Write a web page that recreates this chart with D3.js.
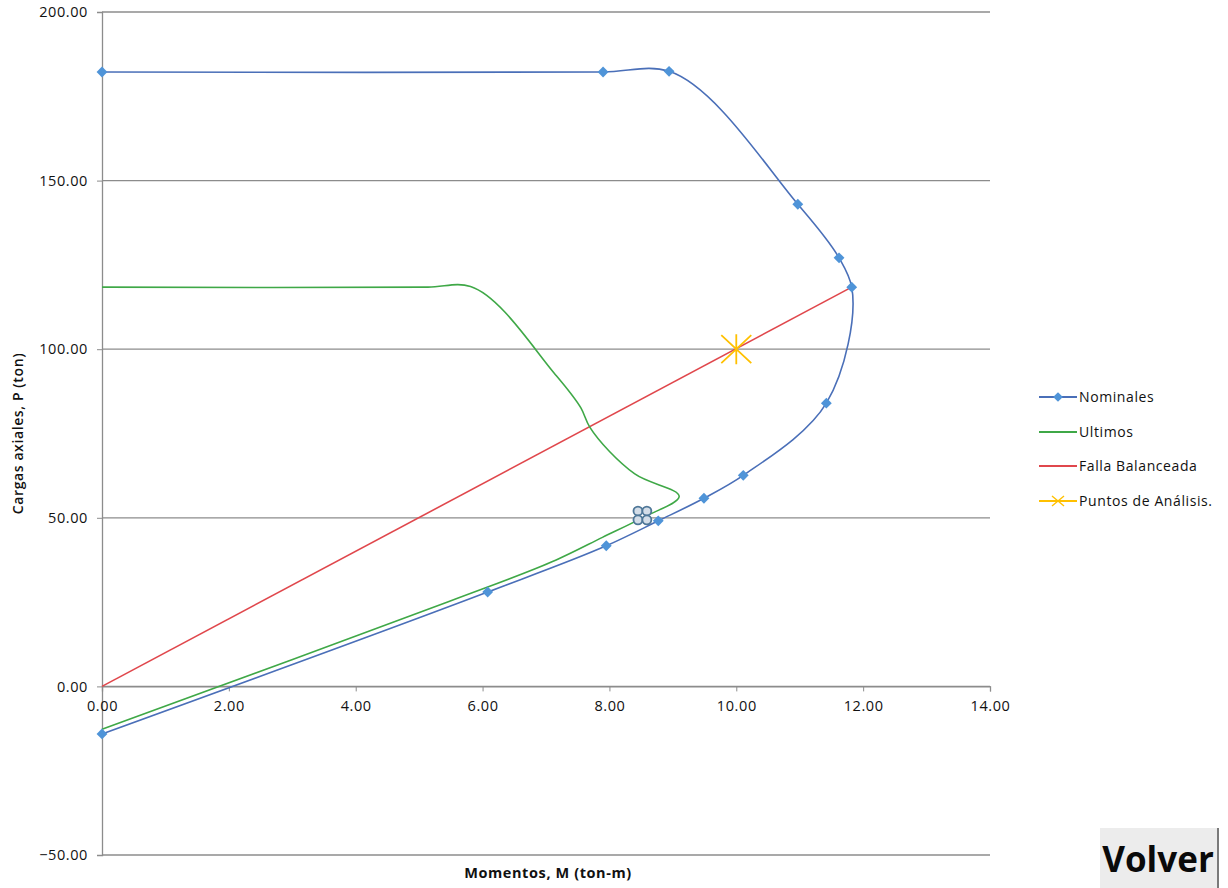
<!DOCTYPE html>
<html>
<head>
<meta charset="utf-8">
<script src="https://cdn.jsdelivr.net/npm/d3@7"></script>
<style>
  body { margin: 0; background: #fff; }
  text { font-family: "Open Sans", "DejaVu Sans", sans-serif; }
</style>
</head>
<body>
<div id="chart"></div>
<script>
// Diagrama de interaccion
var nomM = [0, 7.90, 8.94, 10.97, 11.62, 11.82, 11.42, 10.11, 9.49, 8.77, 7.95, 6.08, 0];
var nomP = [182.2, 182.2, 182.4, 143.0, 127.1, 118.4, 84.0, 62.6, 55.8, 49.1, 41.7, 28.0, -14.1];
var ultM = [0, 5.14, 5.81, 7.13, 7.55, 7.69, 8.40, 9.10, 8.54, 7.89, 7.16, 5.47, 0];
var ultP = [118.4, 118.4, 118.6, 92.9, 82.6, 76.9, 63.0, 56.3, 50.2, 44.2, 37.5, 25.2, -12.7];
var falM = [0, 11.82];
var falP = [0, 118.4];
var ptsM = [10.0];
var ptsP = [100.0];
var marcasM = [8.45, 8.45, 8.59, 8.59];
var marcasP = [52.0, 49.4, 52.0, 49.4];
var xTicks = [0, 2, 4, 6, 8, 10, 12, 14];
var yTicks = [-50, 0, 50, 100, 150, 200];
var series = ["Nominales", "Ultimos", "Falla Balanceada", "Puntos de Análisis."];

function drawChart() {
    var width = 1228, height = 888;
    var left = 102, right = 990, top = 12, bottom = 855;

    var svg = d3.select("#chart").append("svg")
        .attr("width", width).attr("height", height)
        .style("display", "block");

    svg.append("rect").attr("width", width).attr("height", height).attr("fill", "#fff");

    var x = d3.scaleLinear().domain([0, 14]).range([left, right]);
    var y = d3.scaleLinear().domain([-50, 200]).range([bottom, top]);

    // grid
    svg.selectAll(".grid").data(yTicks).enter().append("line")
        .attr("x1", left).attr("x2", right)
        .attr("y1", d => y(d)).attr("y2", d => y(d))
        .attr("stroke", "#8c8c8c").attr("stroke-width", 1.3);

    // y axis
    var yAxis = d3.axisLeft(y).tickValues(yTicks).tickFormat(d3.format(".2f")).tickSize(5).tickPadding(9);
    var gy = svg.append("g").attr("transform", "translate(" + left + ",0)").call(yAxis);
    gy.select(".domain").attr("stroke", "#8c8c8c").attr("stroke-width", 1.3);
    gy.selectAll(".tick line").attr("stroke", "#8c8c8c");
    gy.selectAll("text").attr("font-size", 14.5).attr("letter-spacing", 0.6).attr("fill", "#111");

    // x axis (crosses at P = 0)
    var xAxis = d3.axisBottom(x).tickValues(xTicks).tickFormat(d3.format(".2f")).tickSize(5).tickPadding(9);
    var gx = svg.append("g").attr("transform", "translate(0," + y(0) + ")").call(xAxis);
    gx.select(".domain").attr("stroke", "#8c8c8c").attr("stroke-width", 1.3);
    gx.selectAll(".tick line").attr("stroke", "#8c8c8c");
    gx.selectAll("text").attr("font-size", 14.5).attr("letter-spacing", 0.6).attr("fill", "#111");

    // titles
    svg.append("text").attr("x", (left + right) / 2 + 2).attr("y", 878)
        .attr("text-anchor", "middle").attr("font-size", 14.5).attr("font-weight", "bold")
        .attr("letter-spacing", 0.6).attr("fill", "#111").text("Momentos,  M (ton-m)");
    svg.append("text").attr("transform", "translate(23," + ((top + bottom) / 2) + ") rotate(-90)")
        .attr("text-anchor", "middle").attr("font-size", 14).attr("font-weight", 600)
        .attr("letter-spacing", 0.6).attr("fill", "#111").text("Cargas axiales,  P (ton)");

    var line = d3.line().x(d => x(d[0])).y(d => y(d[1])).curve(d3.curveCatmullRom.alpha(0.7));

    // Falla Balanceada
    svg.append("path").datum(d3.zip(falM, falP))
        .attr("d", d3.line().x(d => x(d[0])).y(d => y(d[1])))
        .attr("fill", "none").attr("stroke", "#e0474c").attr("stroke-width", 1.6);

    // Ultimos
    svg.append("path").datum(d3.zip(ultM, ultP))
        .attr("d", line).attr("fill", "none").attr("stroke", "#3fa847").attr("stroke-width", 1.6);

    // Nominales
    var nom = d3.zip(nomM, nomP);
    svg.append("path").datum(nom)
        .attr("d", line).attr("fill", "none").attr("stroke", "#4a6fb8").attr("stroke-width", 1.6);
    svg.selectAll(".nom").data(nom).enter().append("path")
        .attr("class", "nom")
        .attr("transform", d => "translate(" + x(d[0]) + "," + y(d[1]) + ")")
        .attr("d", d3.symbol(d3.symbolDiamond2, 75))
        .attr("fill", "#4f94d8");

    // small circle marks near (8.5, 50)
    svg.selectAll(".marca").data(d3.zip(marcasM, marcasP)).enter().append("circle")
        .attr("cx", d => x(d[0])).attr("cy", d => y(d[1])).attr("r", 4.5)
        .attr("fill", "#d3dde8").attr("stroke", "#4f7798").attr("stroke-width", 1.8);

    // Puntos de Analisis (asterisk)
    var star = svg.selectAll(".pt").data(d3.zip(ptsM, ptsP)).enter().append("g")
        .attr("transform", d => "translate(" + x(d[0]) + "," + y(d[1]) + ")");
    star.append("path").attr("d", "M-15,-14L15,14M-15,14L15,-14M0,-15L0,15")
        .attr("stroke", "#ffc000").attr("stroke-width", 1.8).attr("fill", "none");

    // legend
    var colors = ["#4a6fb8", "#3fa847", "#e0474c", "#ffc000"];
    var ly = [397, 432, 466, 501];
    var lg = svg.selectAll(".lg").data(series).enter().append("g")
        .attr("transform", (d, i) => "translate(1039," + ly[i] + ")");
    lg.append("line").attr("x1", 0).attr("x2", 38).attr("stroke", (d, i) => colors[i]).attr("stroke-width", 1.8);
    lg.filter((d, i) => i === 0).append("path").attr("transform", "translate(19,0)")
        .attr("d", d3.symbol(d3.symbolDiamond2, 60)).attr("fill", "#4f94d8");
    lg.filter((d, i) => i === 3).append("path")
        .attr("d", "M13,-5L25,5M13,5L25,-5").attr("stroke", "#ffc000").attr("stroke-width", 1.4);
    lg.append("text").attr("x", 40).attr("y", 5).attr("font-size", 14)
        .attr("letter-spacing", 0.6).attr("fill", "#111").text(d => d);

    // Volver button
    var b = svg.append("g").attr("transform", "translate(1100,828)");
    b.append("rect").attr("width", 118).attr("height", 60).attr("fill", "#ececec");
    b.append("line").attr("x1", 118).attr("x2", 118).attr("y1", 0).attr("y2", 60)
        .attr("stroke", "#7a7a7a").attr("stroke-width", 2);
    b.append("text").attr("x", 58).attr("y", 44).attr("text-anchor", "middle")
        .attr("font-family", "Liberation Sans, Arial, sans-serif")
        .attr("font-size", 35).attr("font-weight", "bold").attr("fill", "#0a0a0a").text("Volver");
}
drawChart();
</script>
</body>
</html>
